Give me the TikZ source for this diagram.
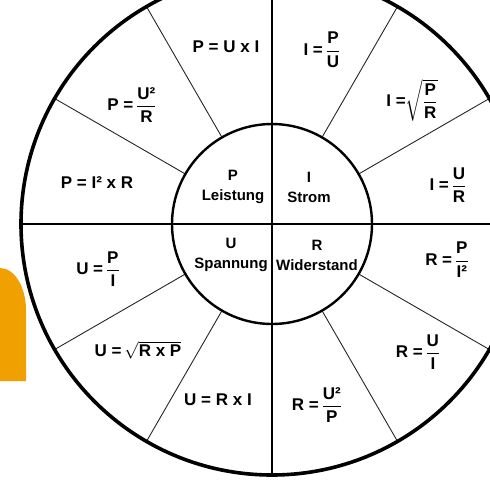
\documentclass[tikz,border=0pt]{standalone}
\usepackage{amsmath}
\usepackage{fontspec}
\setmainfont{Liberation Sans}
\usetikzlibrary{calc}
\definecolor{orng}{RGB}{240,160,0}
\newcommand\frc[2]{$\genfrac{}{}{1.3pt}{0}{\text{#1}}{\text{#2}}$}
\newcommand\rfrc[2]{$\sqrt{\genfrac{}{}{1.3pt}{0}{\text{#1}}{\text{#2}}}$}
\newcommand\rtxt[1]{$\sqrt{\text{#1}}$}
\begin{document}
\begin{tikzpicture}[x=1pt,y=-1pt,
  formula/.style={inner sep=0pt,font=\fontsize{17}{20}\selectfont\bfseries},
  qty/.style={inner sep=0pt,align=center,font=\fontsize{15}{20}\selectfont\bfseries},
  ring/.style={line width=3.6pt},
  hub/.style={line width=2.4pt},
  axis/.style={line width=1.2pt},
  spoke/.style={line width=0.9pt,black!85}]
\useasboundingbox (0,0) rectangle (490,483);
\clip (0,0) rectangle (490,483);
\fill[white] (0,0) rectangle (490,483);
% orange tab
\fill[orng] (0,268) arc[start angle=-90,end angle=0,x radius=26,y radius=42]
  -- (26,381) -- (0,381) -- cycle;
\coordinate (c) at (272,224);
% axes
\coordinate (L) at ($(c)+(180:251)$);
\coordinate (Rr) at ($(c)+(0:251)$);
\coordinate (T) at ($(c)+(90:251)$);
\coordinate (B) at ($(c)+(270:251)$);
\draw[axis] (L) -- (Rr);
\draw[axis] (T) -- (B);
% spokes
\foreach \a in {30,60,120,150,210,240,300,330}{
  \coordinate (s\a) at ($(c)+(\a:100)$);
  \coordinate (e\a) at ($(c)+(\a:251)$);
  \draw[spoke] (s\a) -- (e\a);
}
\draw[hub] (c) circle[radius=100];
\draw[ring] (c) circle[radius=251];
% centre labels
\node[qty] (p) at (233,187) {P\\Leistung};
\node[qty] (i) at (309,187) {I\\Strom};
\node[qty] (u) at (231,255) {U\\Spannung};
\node[qty] (r) at (317,255) {R\\Widerstand};
% formulas
\node[formula] (f1) at (226,47) {P = U x I};
\node[formula] (f2) at (322,50) {I =\,\frc{P}{U}};
\node[formula] (f3) at (132,105) {P =\,\frc{U²}{R}};
\node[formula] (f4) at (412,100) {I =\rfrc{P}{R}};
\node[formula] (f5) at (97,183) {P = I² x R};
\node[formula] (f6) at (448,185) {I =\,\frc{U}{R}};
\node[formula] (f7) at (98,269) {U =\,\frc{P}{I}};
\node[formula] (f8) at (447,260) {R =\,\frc{P}{I²}};
\node[formula] (f9) at (138,350) {U =\,\rtxt{R x P}};
\node[formula] (f10) at (418,352) {R =\,\frc{U}{I}};
\node[formula] (f11) at (218,400) {U = R x I};
\node[formula] (f12) at (317,405) {R =\,\frc{U²}{P}};
\end{tikzpicture}
\end{document}
